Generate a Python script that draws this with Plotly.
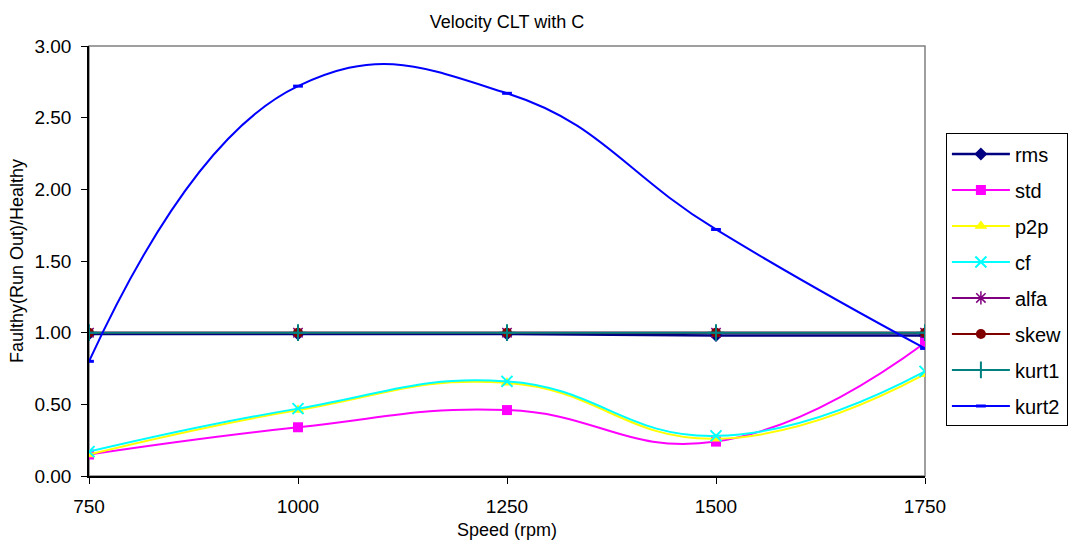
import plotly.graph_objects as go

speed = [750, 1000, 1250, 1500, 1750]
rms = [0.99, 0.99, 0.99, 0.98, 0.98]
std = [0.15, 0.34, 0.46, 0.24, 0.93]
p2p = [0.15, 0.46, 0.65, 0.26, 0.71]
cf = [0.17, 0.47, 0.66, 0.28, 0.73]
alfa = [1.00, 1.00, 1.00, 1.00, 1.00]
skew = [1.00, 1.00, 1.00, 1.00, 1.00]
kurt1 = [1.00, 1.00, 1.00, 1.00, 1.00]
kurt2 = [0.80, 2.72, 2.67, 1.72, 0.89]

series = [
    ("rms", rms, "#000080", "diamond", 10, {}),
    ("std", std, "#FF00FF", "square", 10, {}),
    ("p2p", p2p, "#FFFF00", "triangle-up", 11, {}),
    ("cf", cf, "#00FFFF", "x-thin", 11, {"line": {"color": "#00FFFF", "width": 2}}),
    ("alfa", alfa, "#800080", "asterisk", 11, {"line": {"color": "#800080", "width": 1.5}}),
    ("skew", skew, "#800000", "circle", 10, {}),
    ("kurt1", kurt1, "#008080", "cross-thin", 12, {"line": {"color": "#008080", "width": 2}}),
    ("kurt2", kurt2, "#0000FF", "line-ew", 7, {"line": {"color": "#0000FF", "width": 3}}),
]

fig = go.Figure()
for i, (name, vals, col, sym, sz, extra) in enumerate(series):
    marker = dict(symbol=sym, size=sz, color=col)
    marker.update(extra)
    fig.add_trace(go.Scatter(
        x=speed, y=vals, name=name, mode="lines+markers",
        line=dict(color=col, width=2 if name != "rms" else 2.5, shape="spline", smoothing=1.3),
        marker=marker, legendgroup=name,
    ))

fig.add_shape(type="rect", xref="paper", yref="paper", x0=0, x1=1, y0=0, y1=1,
              line=dict(color="#808080", width=1.5), layer="below")

fig.update_layout(
    width=1075, height=543,
    margin=dict(l=89, r=150, t=46, b=67, autoexpand=False),
    paper_bgcolor="white", plot_bgcolor="white",
    font=dict(family="Arial, Liberation Sans, sans-serif", color="black", size=18),
    title=dict(text="Velocity CLT with C", x=0.5, xanchor="center", xref="paper",
               y=0.96, yanchor="middle", font=dict(size=18)),
    showlegend=True,
    legend=dict(x=1.025, xanchor="left", y=0.456, yanchor="middle",
                bordercolor="black", borderwidth=1, bgcolor="white",
                font=dict(size=20), traceorder="grouped", tracegroupgap=7,
                itemwidth=58),
    xaxis=dict(range=[750, 1750], tickvals=[750, 1000, 1250, 1500, 1750],
               showgrid=False, zeroline=False, showline=True, linecolor="black",
               linewidth=1.5, ticks="outside", ticklen=6, tickcolor="black",
               ticklabelstandoff=6, automargin=False,
               title=dict(text="Speed (rpm)", font=dict(size=18), standoff=8),
               tickfont=dict(size=19)),
    yaxis=dict(range=[0, 3], dtick=0.5, tickformat=".2f",
               showgrid=False, zeroline=False, showline=True, linecolor="black",
               linewidth=1.5, ticks="outside", ticklen=6, tickcolor="black",
               ticklabelstandoff=6, automargin=False,
               title=dict(text="Faulthy(Run Out)/Healthy", font=dict(size=18), standoff=6),
               tickfont=dict(size=19)),
)

fig.write_html("out.html")
